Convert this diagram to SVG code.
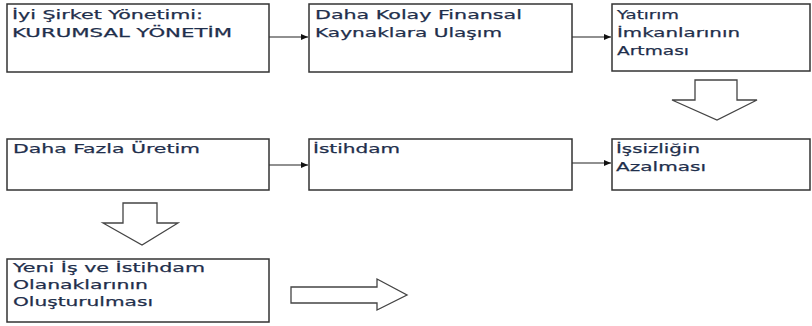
<svg xmlns="http://www.w3.org/2000/svg" width="812" height="326" viewBox="0 0 812 326">
<style>
.box{fill:#fff;stroke:#333;stroke-width:1.5}
.blk{fill:#fff;stroke:#444;stroke-width:1.3;stroke-linejoin:miter}
.con{stroke:#222;stroke-width:1.2;fill:none}
text{font-family:"DejaVu Sans","Liberation Sans",sans-serif;font-size:13px;fill:#1f2f4c;stroke:#1f2f4c;stroke-width:0.25}
</style>
<defs>
<marker id="ah" markerWidth="8" markerHeight="8" refX="7" refY="4" orient="auto" markerUnits="userSpaceOnUse">
<path d="M0,1 L7,4 L0,7 Z" fill="#111"/>
</marker>
</defs>
<rect width="812" height="326" fill="#fff"/>
<g id="connectors">
<line class="con" x1="269" y1="37" x2="308" y2="37" marker-end="url(#ah)"/>
<line class="con" x1="572" y1="37" x2="611" y2="37" marker-end="url(#ah)"/>
<line class="con" x1="269" y1="165" x2="308" y2="165" marker-end="url(#ah)"/>
<line class="con" x1="572" y1="163" x2="611" y2="163" marker-end="url(#ah)"/>
<path class="blk" d="M695,80 H737 V100 H757 L717,120 L672,100 H695 Z"/>
<path class="blk" d="M123,203 H157 V223 H178 L142,245 L103,223 H123 Z"/>
<path class="blk" d="M291,287 H377 V279 L407,295 L377,310 V303 H291 Z"/>
</g>
<g id="n1">
<rect class="box" x="7" y="4" width="262" height="68"/>
<text x="12" y="19" textLength="191" lengthAdjust="spacingAndGlyphs">İyi Şirket Yönetimi:</text>
<text x="12" y="37" textLength="220" lengthAdjust="spacingAndGlyphs">KURUMSAL YÖNETİM</text>
</g>
<g id="n2">
<rect class="box" x="309" y="4" width="263" height="68"/>
<text x="315" y="19" textLength="207" lengthAdjust="spacingAndGlyphs">Daha Kolay Finansal</text>
<text x="315" y="37" textLength="187" lengthAdjust="spacingAndGlyphs">Kaynaklara Ulaşım</text>
</g>
<g id="n3">
<rect class="box" x="612" y="4" width="198" height="67"/>
<text x="617" y="19" textLength="62" lengthAdjust="spacingAndGlyphs">Yatırım</text>
<text x="617" y="37" textLength="123" lengthAdjust="spacingAndGlyphs">İmkanlarının</text>
<text x="617" y="55" textLength="72" lengthAdjust="spacingAndGlyphs">Artması</text>
</g>
<g id="n4">
<rect class="box" x="7" y="139" width="262" height="51"/>
<text x="13" y="153" textLength="187" lengthAdjust="spacingAndGlyphs">Daha Fazla Üretim</text>
</g>
<g id="n5">
<rect class="box" x="309" y="139" width="263" height="51"/>
<text x="313" y="153" textLength="87" lengthAdjust="spacingAndGlyphs">İstihdam</text>
</g>
<g id="n6">
<rect class="box" x="612" y="139" width="198" height="51"/>
<text x="616" y="153" textLength="84" lengthAdjust="spacingAndGlyphs">İşsizliğin</text>
<text x="616" y="171" textLength="90" lengthAdjust="spacingAndGlyphs">Azalması</text>
</g>
<g id="n7">
<rect class="box" x="7" y="259" width="262" height="63"/>
<text x="13" y="272" textLength="192" lengthAdjust="spacingAndGlyphs">Yeni İş ve İstihdam</text>
<text x="13" y="289" textLength="135" lengthAdjust="spacingAndGlyphs">Olanaklarının</text>
<text x="13" y="306" textLength="140" lengthAdjust="spacingAndGlyphs">Oluşturulması</text>
</g>
</svg>
